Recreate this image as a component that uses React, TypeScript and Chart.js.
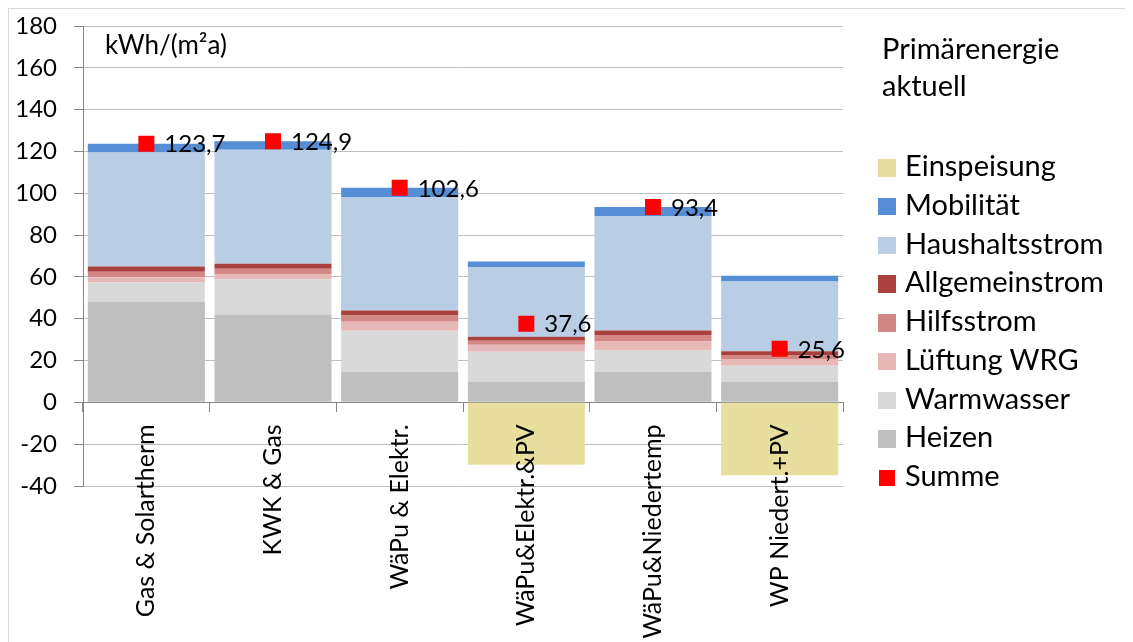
import React, { useEffect, useRef } from "react";
import { Chart, registerables } from "chart.js";

Chart.register(...registerables);

// ---------- data ----------
const categories = [
  "Gas & Solartherm",
  "KWK & Gas",
  "WäPu & Elektr.",
  "WäPu&Elektr.&PV",
  "WäPu&Niedertemp",
  "WP Niedert.+PV",
];
const heizen = [48, 42, 14.6, 9.8, 14.6, 9.8];
const warmwasser = [9.5, 16.8, 19.7, 14.4, 10.2, 7.7];
const lueftungWRG = [2.3, 2.4, 4.3, 3.4, 4.6, 3.2];
const hilfsstrom = [2.7, 2.7, 2.9, 1.9, 2.8, 1.9];
const allgemeinstrom = [2.5, 2.4, 2.4, 1.9, 2.2, 1.8];
const haushaltsstrom = [54.5, 54.5, 54.3, 33.3, 54.7, 33.4];
const mobilitaet = [4.2, 4.1, 4.4, 2.7, 4.3, 2.7];
const einspeisung = [null, null, null, -29.8, null, -34.9];
const summe = [123.7, 124.9, 102.6, 37.6, 93.4, 25.6];

const yMin = -40;
const yMax = 180;
const yStep = 20;

const unitLabel = "kWh/(m²a)";
const titleLines = ["Primärenergie", "aktuell"];

const COLORS = {
  einspeisung: "#E8DF9E",
  mobilitaet: "#558ED5",
  haushaltsstrom: "#B9CDE5",
  allgemeinstrom: "#A9423F",
  hilfsstrom: "#D48885",
  lueftung: "#E6B9B8",
  warmwasser: "#D9D9D9",
  heizen: "#BFBFBF",
  summe: "#FF0000",
};

const legendItems = [
  { label: "Einspeisung", color: COLORS.einspeisung },
  { label: "Mobilität", color: COLORS.mobilitaet },
  { label: "Haushaltsstrom", color: COLORS.haushaltsstrom },
  { label: "Allgemeinstrom", color: COLORS.allgemeinstrom },
  { label: "Hilfsstrom", color: COLORS.hilfsstrom },
  { label: "Lüftung WRG", color: COLORS.lueftung },
  { label: "Warmwasser", color: COLORS.warmwasser },
  { label: "Heizen", color: COLORS.heizen },
  { label: "Summe", color: COLORS.summe, small: true },
];

const FONT = "Lato";
const FS_Y = 24;
const FS_X = 25;
const FS_VAL = 24;
const FS_UNIT = 26;
const FS_LEGEND = 29;

const summeLabelsPlugin = {
  id: "summeLabels",
  afterDatasetsDraw(chart: any) {
    const idx = chart.data.datasets.findIndex((d: any) => d.label === "Summe");
    if (idx < 0) return;
    const meta = chart.getDatasetMeta(idx);
    const ctx = chart.ctx;
    ctx.save();
    ctx.font = `${FS_VAL}px ${FONT}`;
    ctx.fillStyle = "#000";
    ctx.textAlign = "left";
    ctx.textBaseline = "middle";
    meta.data.forEach((pt: any, i: number) => {
      ctx.fillText(summe[i].toFixed(1).replace(".", ","), pt.x + 18, pt.y + 1);
    });
    ctx.restore();
  },
};

export default function App() {
  const ref = useRef<HTMLCanvasElement>(null);

  useEffect(() => {
    if (!ref.current) return;
    const barCommon = {
      type: "bar" as const,
      borderWidth: 0,
      barPercentage: 0.924,
      categoryPercentage: 1,
      stack: "energie",
    };
    const chart = new Chart(ref.current, {
      type: "bar",
      data: {
        labels: categories,
        datasets: [
          { ...barCommon, label: "Heizen", data: heizen, backgroundColor: COLORS.heizen },
          { ...barCommon, label: "Warmwasser", data: warmwasser, backgroundColor: COLORS.warmwasser },
          { ...barCommon, label: "Lüftung WRG", data: lueftungWRG, backgroundColor: COLORS.lueftung },
          { ...barCommon, label: "Hilfsstrom", data: hilfsstrom, backgroundColor: COLORS.hilfsstrom },
          { ...barCommon, label: "Allgemeinstrom", data: allgemeinstrom, backgroundColor: COLORS.allgemeinstrom },
          { ...barCommon, label: "Haushaltsstrom", data: haushaltsstrom, backgroundColor: COLORS.haushaltsstrom },
          { ...barCommon, label: "Mobilität", data: mobilitaet, backgroundColor: COLORS.mobilitaet },
          { ...barCommon, label: "Einspeisung", data: einspeisung as any, backgroundColor: COLORS.einspeisung },
          {
            type: "line" as const,
            label: "Summe",
            data: summe,
            stack: "summe",
            showLine: false,
            pointStyle: "rect",
            pointRadius: 11.3,
            pointHoverRadius: 11.3,
            pointBorderWidth: 0,
            backgroundColor: COLORS.summe,
            borderColor: COLORS.summe,
            order: -1,
          } as any,
        ],
      },
      options: {
        responsive: false,
        animation: false,
        events: [],
        layout: { padding: { left: 0, top: 17, right: 290, bottom: 156 } },
        plugins: {
          legend: { display: false },
          tooltip: { enabled: false },
          title: { display: false },
        },
        scales: {
          x: {
            stacked: true,
            position: { y: 0 } as any,
            offset: true,
            afterFit: (scale: any) => {
              scale.height = 0;
            },
            grid: {
              offset: true,
              drawOnChartArea: false,
              drawTicks: true,
              tickLength: 9,
              color: "#868686",
            },
            border: { display: true, color: "#868686", width: 1 },
            ticks: {
              z: 1,
              autoSkip: false,
              minRotation: 90,
              maxRotation: 90,
              padding: 13,
              color: "#000",
              font: { family: FONT, size: FS_X },
            },
          },
          y: {
            stacked: true,
            min: yMin,
            max: yMax,
            afterFit: (scale: any) => {
              scale.width = 74;
              scale.paddingTop = 0;
              scale.paddingBottom = 0;
            },
            grid: {
              color: "#BFBFBF",
              tickColor: "#868686",
              tickLength: 9,
              drawTicks: true,
            },
            border: { display: true, color: "#868686", width: 1 },
            ticks: {
              stepSize: yStep,
              padding: 17,
              color: "#000",
              font: { family: FONT, size: FS_Y },
            },
          },
        },
      },
      plugins: [summeLabelsPlugin],
    });
    return () => chart.destroy();
  }, []);

  const textStyle: React.CSSProperties = {
    fontFamily: FONT,
    color: "#000",
    whiteSpace: "nowrap",
  };

  return (
    <div
      style={{
        position: "relative",
        width: 1125,
        height: 634,
        boxSizing: "border-box",
        borderTop: "1px solid #D9D9D9",
        borderLeft: "1px solid #D9D9D9",
        overflow: "hidden",
      }}
    >
      <style>{`html,body{overflow:hidden}`}</style>
      <canvas
        ref={ref}
        width={1124}
        height={633}
        style={{ display: "block", width: 1124, height: 633 }}
      />
      <div style={{ ...textStyle, fontSize: FS_UNIT, position: "absolute", left: 96, top: 17, lineHeight: "37px" }}>
        {unitLabel}
      </div>
      <div style={{ ...textStyle, fontSize: FS_LEGEND, position: "absolute", left: 873, top: 20, lineHeight: "37px" }}>
        {titleLines.map((t, i) => (
          <div key={i}>{t}</div>
        ))}
      </div>
      <div style={{ position: "absolute", left: 869, top: 137 }}>
        {legendItems.map((it) => (
          <div
            key={it.label}
            style={{ ...textStyle, fontSize: FS_LEGEND, position: "relative", height: 38.75, lineHeight: "38.75px" }}
          >
            <span
              style={{
                position: "absolute",
                left: it.small ? 1 : 0,
                top: it.small ? 14 : 13,
                width: it.small ? 16 : 18,
                height: it.small ? 16 : 17.5,
                background: it.color,
              }}
            />
            <span style={{ position: "absolute", left: 27, top: 0 }}>{it.label}</span>
          </div>
        ))}
      </div>
    </div>
  );
}
